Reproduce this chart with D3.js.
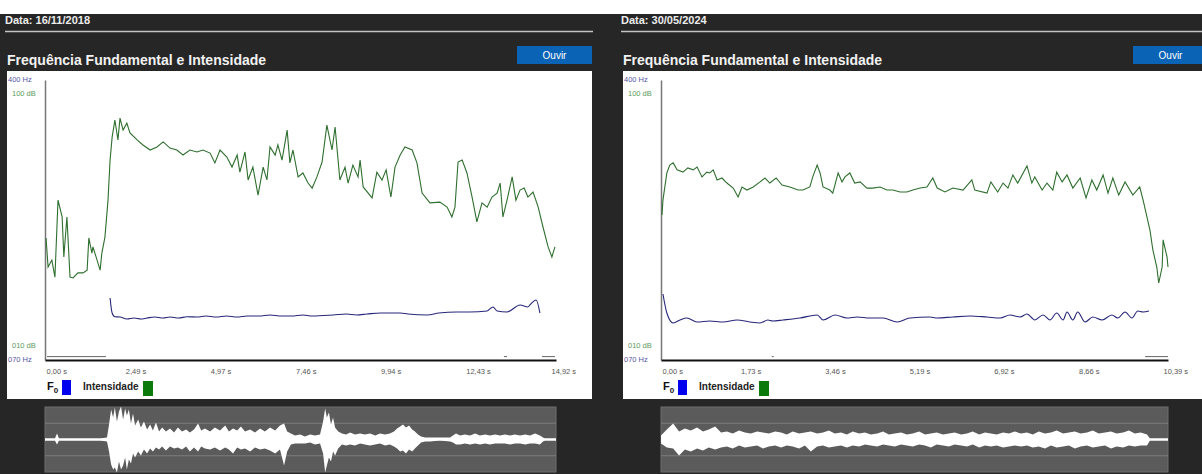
<!DOCTYPE html>
<html lang="pt">
<head>
<meta charset="UTF-8">
<title>Frequência Fundamental e Intensidade</title>
<style>
  body { margin: 0; background: #fff; }
  svg { display: block; font-family: "Liberation Sans", Arial, sans-serif; }
</style>
</head>
<body>
<svg id="chart" width="1202" height="474"></svg>
<script src="https://d3js.org/d3.v7.min.js"></script>
<script>
// ---- left recording (16/11/2018) ----
const leftDate = "16/11/2018";
const leftDuration = 14.92;
const leftTicks = [0, 2.49, 4.97, 7.46, 9.94, 12.43, 14.92];

// intensity (s, dB)
const leftIntT = [
  0.03, 0.09, 0.20, 0.29, 0.38, 0.50, 0.55, 0.64, 0.73, 0.82,
  0.96, 1.11, 1.23, 1.28, 1.37, 1.40, 1.52, 1.61, 1.66, 1.75,
  1.84, 1.90, 1.96, 2.04, 2.13, 2.19, 2.28, 2.39, 2.48, 2.69,
  2.86, 3.07, 3.27, 3.45, 3.65, 3.85, 4.03, 4.23, 4.44, 4.61,
  4.82, 4.96, 5.11, 5.31, 5.46, 5.61, 5.69, 5.84, 5.93, 6.07,
  6.22, 6.37, 6.48, 6.57, 6.72, 6.80, 6.92, 7.07, 7.15, 7.24,
  7.39, 7.53, 7.68, 7.80, 7.94, 8.09, 8.23, 8.38, 8.47, 8.61,
  8.76, 8.85, 8.99, 9.14, 9.20, 9.29, 9.55, 9.69, 9.84, 9.96,
  10.10, 10.22, 10.37, 10.51, 10.72, 10.86, 11.01, 11.24, 11.53, 11.74,
  11.88, 11.97, 12.06, 12.18, 12.32, 12.47, 12.61, 12.76, 12.91, 13.05,
  13.20, 13.29, 13.37, 13.49, 13.64, 13.75, 13.87, 13.99, 14.10, 14.25,
  14.40, 14.54, 14.69, 14.80, 14.89
];
const leftIntDb = [
  48.6, 38.2, 40.7, 34.6, 62.1, 56.1, 41.8, 56.1, 34.6, 34.3,
  36.1, 36.1, 37.1, 48.6, 43.2, 45.4, 40.7, 37.1, 43.2, 48.9,
  62.1, 76.4, 84.6, 90.7, 83.6, 91.4, 87.1, 89.6, 86.1, 83.6,
  81.8, 80.0, 81.1, 82.9, 80.7, 80.0, 78.2, 80.0, 79.3, 80.0,
  78.9, 75.4, 80.0, 77.5, 73.9, 78.2, 72.1, 79.3, 69.3, 73.9,
  63.9, 73.9, 69.3, 81.1, 78.2, 81.8, 76.4, 87.1, 75.4, 80.0,
  70.4, 71.8, 68.2, 66.4, 70.4, 75.7, 88.9, 80.0, 88.2, 69.3,
  73.9, 68.2, 74.6, 70.4, 76.4, 66.8, 62.9, 72.1, 69.3, 72.9,
  63.2, 73.9, 78.2, 81.1, 80.0, 75.4, 64.6, 61.1, 61.4, 59.6,
  56.1, 59.6, 75.7, 76.4, 71.8, 63.2, 54.3, 61.1, 59.6, 63.2,
  64.6, 68.2, 56.1, 62.1, 70.4, 62.1, 65.7, 66.4, 63.2, 65.0,
  59.6, 52.5, 45.4, 41.8, 45.4
];

// fundamental frequency (s, Hz)
const leftF0T = [
  1.90, 1.96, 2.04, 2.19, 2.39, 2.60, 2.80, 2.98, 3.20, 3.45,
  3.65, 3.90, 4.15, 4.44, 4.70, 5.00, 5.30, 5.61, 5.90, 6.25,
  6.57, 6.90, 7.20, 7.53, 7.80, 8.41, 8.80, 9.10, 9.40, 9.80,
  10.37, 10.60, 11.16, 11.50, 12.03, 12.40, 12.91, 13.08, 13.20, 13.49,
  13.87, 14.10, 14.16, 14.34, 14.45
];
const leftF0Hz = [
  143.1, 125.4, 121.0, 120.7, 118.3, 119.5, 118.3, 119.5, 120.7, 119.5,
  120.7, 119.5, 121.0, 120.7, 121.9, 120.7, 121.9, 120.7, 121.9, 121.9,
  123.1, 121.9, 121.9, 123.1, 121.9, 123.1, 124.2, 123.1, 124.2, 125.4,
  125.4, 124.2, 123.1, 125.4, 126.6, 126.6, 127.8, 132.5, 127.8, 126.6,
  134.9, 132.5, 134.9, 140.8, 125.4
];
// unvoiced stretches drawn along the floor (s)
const leftUnvoiced = [[0.06, 1.78], [13.40, 13.49], [14.51, 14.89]];

// waveform envelope (s, amplitude up / down)
const leftWaveT = [
  0, 0.29, 0.35, 0.41, 1.61, 1.81, 1.87, 1.93, 1.99, 2.04,
  2.10, 2.16, 2.22, 2.28, 2.34, 2.39, 2.45, 2.51, 2.57, 2.63,
  2.72, 2.80, 2.89, 2.98, 3.07, 3.15, 3.24, 3.33, 3.42, 3.53,
  3.65, 3.77, 3.88, 4.00, 4.12, 4.23, 4.35, 4.47, 4.56, 4.67,
  4.82, 4.96, 5.11, 5.26, 5.37, 5.49, 5.61, 5.72, 5.84, 5.99,
  6.13, 6.28, 6.42, 6.57, 6.72, 6.86, 6.98, 7.07, 7.18, 7.30,
  7.45, 7.59, 7.74, 7.88, 8.03, 8.12, 8.18, 8.23, 8.29, 8.35,
  8.41, 8.47, 8.56, 8.67, 8.79, 8.91, 9.05, 9.20, 9.34, 9.49,
  9.64, 9.78, 9.93, 10.07, 10.19, 10.28, 10.37, 10.45, 10.54, 10.63,
  10.72, 10.80, 10.89, 10.98, 11.10, 11.24, 11.53, 11.83, 11.91, 12.00,
  12.12, 12.26, 12.41, 12.56, 12.70, 12.85, 12.99, 13.14, 13.29, 13.43,
  13.58, 13.72, 13.87, 14.02, 14.16, 14.31, 14.45, 14.54, 14.60, 14.92
];
const leftWaveUp = [
  1, 1, 6, 1, 1, 2, 15, 30, 22, 32,
  18, 28, 33, 20, 31, 24, 30, 16, 26, 14,
  20, 12, 18, 10, 15, 9, 17, 8, 12, 8,
  11, 7, 12, 8, 10, 7, 10, 16, 9, 11,
  8, 12, 9, 14, 8, 11, 9, 13, 8, 10,
  7, 11, 8, 12, 9, 14, 16, 8, 6, 4,
  5, 3, 5, 4, 5, 18, 31, 22, 27, 15,
  22, 12, 8, 6, 5, 7, 5, 6, 5, 6,
  4, 6, 5, 6, 8, 11, 13, 15, 12, 14,
  10, 8, 5, 3, 2, 2, 2, 2, 4, 6,
  4, 5, 4, 6, 4, 5, 4, 5, 4, 5,
  4, 5, 4, 5, 4, 6, 4, 2, 1, 1
];
const leftWaveDown = [
  1, 1, 5, 1, 1, 2, 12, 25, 30, 28,
  33, 22, 30, 26, 18, 30, 20, 24, 14, 18,
  12, 16, 10, 14, 9, 12, 8, 10, 7, 11,
  7, 9, 8, 10, 7, 12, 8, 12, 7, 9,
  10, 8, 11, 8, 10, 14, 8, 10, 9, 12,
  8, 10, 9, 11, 14, 10, 26, 12, 5, 4,
  4, 4, 3, 5, 4, 14, 33, 26, 18, 22,
  12, 16, 9, 5, 6, 5, 6, 4, 5, 6,
  5, 4, 6, 5, 7, 9, 12, 11, 14, 10,
  12, 9, 6, 3, 2, 2, 1, 2, 3, 5,
  5, 4, 5, 4, 5, 4, 5, 4, 4, 4,
  5, 4, 4, 5, 4, 4, 5, 2, 1, 1
];

// ---- right recording (30/05/2024) ----
const rightDate = "30/05/2024";
const rightDuration = 10.39;
const rightTicks = [0, 1.73, 3.46, 5.19, 6.92, 8.66, 10.39];

const rightIntT = [
  0.02, 0.04, 0.12, 0.18, 0.25, 0.33, 0.45, 0.55, 0.66, 0.74,
  0.84, 0.94, 1.00, 1.07, 1.15, 1.25, 1.35, 1.48, 1.58, 1.66,
  1.76, 1.89, 2.03, 2.13, 2.23, 2.36, 2.48, 2.64, 2.81, 2.91,
  3.05, 3.11, 3.20, 3.26, 3.32, 3.46, 3.52, 3.63, 3.71, 3.77,
  3.87, 3.97, 4.08, 4.22, 4.34, 4.49, 4.63, 4.75, 4.90, 5.04,
  5.16, 5.31, 5.45, 5.57, 5.66, 5.82, 5.98, 6.19, 6.37, 6.43,
  6.68, 6.76, 6.90, 7.01, 7.11, 7.21, 7.31, 7.50, 7.60, 7.66,
  7.81, 7.91, 8.03, 8.11, 8.22, 8.32, 8.44, 8.59, 8.71, 8.83,
  8.93, 9.06, 9.16, 9.26, 9.38, 9.51, 9.67, 9.81, 9.88, 10.02,
  10.08, 10.16, 10.20, 10.27, 10.29, 10.37, 10.39
];
const rightIntDb = [
  56.8, 62.1, 71.8, 74.6, 75.4, 72.9, 72.1, 73.6, 72.9, 73.9,
  70.4, 72.1, 71.8, 72.9, 69.3, 70.0, 68.2, 66.4, 63.2, 66.8,
  65.7, 66.8, 68.6, 70.0, 68.2, 70.0, 67.5, 66.8, 65.7, 65.7,
  66.8, 70.4, 74.6, 71.8, 66.8, 65.7, 64.6, 71.8, 68.6, 70.4,
  71.8, 68.2, 68.6, 66.4, 66.4, 66.8, 65.7, 65.7, 65.0, 65.0,
  65.7, 66.4, 66.8, 70.0, 66.4, 65.0, 66.4, 65.7, 69.3, 65.7,
  64.6, 68.6, 65.0, 68.2, 66.4, 71.1, 68.2, 74.3, 68.2, 70.4,
  65.7, 68.2, 65.7, 72.1, 68.6, 71.1, 66.4, 70.0, 62.9, 69.3,
  65.7, 71.1, 64.6, 70.0, 63.9, 68.6, 63.9, 66.8, 62.1, 51.4,
  44.3, 38.2, 32.5, 38.2, 47.9, 41.8, 38.2
];

const rightF0T = [
  0.04, 0.12, 0.25, 0.39, 0.53, 0.74, 1.00, 1.27, 1.56, 1.82,
  2.03, 2.19, 2.29, 2.50, 2.85, 3.20, 3.32, 3.57, 3.81, 4.02,
  4.28, 4.55, 4.84, 5.10, 5.51, 5.66, 5.98, 6.33, 6.68, 6.95,
  7.15, 7.36, 7.50, 7.66, 7.83, 7.97, 8.11, 8.24, 8.32, 8.44,
  8.54, 8.69, 8.85, 9.04, 9.24, 9.36, 9.51, 9.65, 9.77, 9.88,
  10.00
];
const rightF0Hz = [
  147.8, 125.4, 113.6, 117.2, 119.5, 114.8, 116.0, 114.8, 117.2, 114.8,
  113.6, 117.2, 116.0, 117.2, 119.5, 123.1, 117.2, 123.1, 119.5, 120.7,
  119.5, 119.5, 114.8, 119.5, 120.7, 119.5, 120.7, 121.9, 120.7, 119.5,
  123.1, 120.7, 124.2, 117.2, 123.1, 117.2, 125.4, 117.2, 126.6, 117.2,
  126.6, 114.8, 120.7, 117.2, 123.1, 119.5, 126.6, 119.5, 127.8, 126.6,
  127.8
];
const rightUnvoiced = [[2.27, 2.31], [9.92, 10.39]];

const rightWaveT = [
  0, 0.12, 0.25, 0.37, 0.49, 0.61, 0.74, 0.86, 0.98, 1.11,
  1.23, 1.35, 1.47, 1.60, 1.72, 1.84, 1.97, 2.09, 2.21, 2.34,
  2.46, 2.58, 2.70, 2.83, 2.95, 3.07, 3.20, 3.32, 3.44, 3.56,
  3.69, 3.81, 3.93, 4.06, 4.18, 4.30, 4.43, 4.55, 4.67, 4.79,
  4.92, 5.04, 5.16, 5.29, 5.41, 5.53, 5.65, 5.78, 5.90, 6.02,
  6.15, 6.27, 6.39, 6.52, 6.64, 6.76, 6.88, 7.01, 7.13, 7.25,
  7.38, 7.50, 7.62, 7.74, 7.87, 7.99, 8.11, 8.24, 8.36, 8.48,
  8.60, 8.73, 8.85, 8.97, 9.10, 9.22, 9.34, 9.47, 9.59, 9.71,
  9.83, 9.96, 10.02, 10.39
];
const rightWaveUp = [
  4, 10, 16, 8, 11, 9, 12, 8, 10, 13,
  7, 8, 6, 9, 7, 6, 8, 7, 6, 8,
  7, 5, 8, 6, 7, 8, 6, 7, 9, 6,
  7, 5, 8, 6, 7, 5, 6, 8, 5, 6,
  7, 5, 6, 8, 5, 6, 7, 5, 6, 7,
  5, 6, 8, 5, 7, 6, 5, 7, 6, 8,
  6, 7, 5, 8, 6, 7, 9, 6, 7, 8,
  6, 7, 9, 6, 7, 8, 6, 7, 9, 6,
  7, 5, 1, 1
];
const rightWaveDown = [
  4, 8, 9, 16, 10, 12, 9, 11, 8, 10,
  8, 7, 9, 6, 8, 7, 6, 9, 7, 6,
  8, 6, 7, 9, 6, 12, 7, 6, 8, 7,
  6, 8, 6, 7, 5, 6, 7, 5, 6, 7,
  5, 6, 7, 5, 6, 8, 5, 6, 7, 5,
  6, 7, 5, 8, 6, 7, 6, 8, 7, 6,
  7, 6, 8, 7, 9, 6, 8, 7, 6, 9,
  7, 6, 8, 7, 6, 9, 7, 8, 6, 7,
  6, 6, 1, 1
];

const svg = d3.select("#chart");

// dark page background below the white strip
svg.append("rect")
    .attr("x", 0).attr("y", 14)
    .attr("width", 1202).attr("height", 460)
    .attr("fill", "#262626");

function fmtSec(d) {
    return d.toFixed(2).replace(".", ",") + " s";
}

function drawPanel(p) {
    const ox = p.left;
    const g = svg.append("g");

    // header
    g.append("text")
        .attr("x", ox + 5).attr("y", 24)
        .attr("fill", "#ececec")
        .attr("font-size", 11).attr("font-weight", "bold")
        .text("Data: " + p.date);
    g.append("line")
        .attr("x1", ox + 5).attr("x2", ox + 593)
        .attr("y1", 31.5).attr("y2", 31.5)
        .attr("stroke", "#c4c4c4").attr("stroke-width", 1.5);
    g.append("text")
        .attr("x", ox + 7).attr("y", 65)
        .attr("fill", "#f2f2f2")
        .attr("font-size", 14).attr("font-weight", "bold")
        .text("Frequência Fundamental e Intensidade");

    // button
    g.append("rect")
        .attr("x", ox + 517).attr("y", 46)
        .attr("width", 75).attr("height", 18)
        .attr("fill", "#0b63b6");
    g.append("text")
        .attr("x", ox + 554.5).attr("y", 59)
        .attr("text-anchor", "middle")
        .attr("fill", "#fff").attr("font-size", 10)
        .text("Ouvir");

    // chart background
    g.append("rect")
        .attr("x", ox + 7).attr("y", 71)
        .attr("width", 585).attr("height", 328)
        .attr("fill", "#fff");

    const x = d3.scaleLinear().domain([0, p.duration]).range([p.x0, p.x1]);
    const yHz = d3.scaleLinear().domain([70, 400]).range([360, 80]);
    const yDb = d3.scaleLinear().domain([10, 100]).range([346, 94]);

    // y axis (plain line)
    const ya = g.append("g")
        .attr("transform", `translate(${p.x0},0)`)
        .call(d3.axisLeft(yHz).tickValues([]).tickSizeOuter(0));
    ya.select(".domain").attr("stroke", "#777").attr("stroke-width", 1.5);

    // axis end labels
    const small = [
        { t: "400 Hz", y: yHz(400), dx: 8, c: "#5a55a8" },
        { t: "100 dB", y: yDb(100), dx: 12, c: "#5c9a5c" },
        { t: "010 dB", y: yDb(10), dx: 12, c: "#5c9a5c" },
        { t: "070 Hz", y: yHz(70), dx: 8, c: "#5a55a8" }
    ];
    g.selectAll(".ylab").data(small).enter().append("text")
        .attr("x", d => ox + d.dx).attr("y", d => d.y - 1)
        .attr("dy", "0.35em")
        .attr("fill", d => d.c).attr("font-size", 7.5)
        .text(d => d.t);

    // x axis
    const xa = g.append("g")
        .attr("transform", "translate(0,360)")
        .call(d3.axisBottom(x).tickValues(p.ticks).tickSize(0).tickSizeOuter(0).tickFormat(fmtSec));
    xa.select(".domain").attr("stroke", "#111").attr("stroke-width", 2);
    xa.selectAll("text")
        .attr("font-family", "Liberation Sans, Arial, sans-serif")
        .attr("font-size", 7.5).attr("fill", "#555")
        .attr("text-anchor", "start")
        .attr("y", 9)
        .attr("dx", (d, i) => i === 0 ? 1 : -5);

    // unvoiced floor marks
    g.selectAll(".uv").data(p.unvoiced).enter().append("line")
        .attr("x1", d => x(d[0])).attr("x2", d => x(d[1]))
        .attr("y1", yHz(74)).attr("y2", yHz(74))
        .attr("stroke", "#666").attr("stroke-width", 1);

    // series
    const lineDb = d3.line().x(d => x(d[0])).y(d => yDb(d[1]));
    const lineHz = d3.line().x(d => x(d[0])).y(d => yHz(d[1])).curve(d3.curveMonotoneX);
    g.append("path")
        .datum(d3.zip(p.intT, p.intV))
        .attr("d", lineDb)
        .attr("fill", "none").attr("stroke", "#2f6f2f").attr("stroke-width", 1.1);
    g.append("path")
        .datum(d3.zip(p.f0T, p.f0V))
        .attr("d", lineHz)
        .attr("fill", "none").attr("stroke", "#26267a").attr("stroke-width", 1.1);

    // legend
    const lg = g.append("g");
    const f = lg.append("text")
        .attr("x", ox + 47).attr("y", 390)
        .attr("fill", "#111").attr("font-size", 11).attr("font-weight", "bold");
    f.append("tspan").text("F");
    f.append("tspan").attr("dy", 3).attr("font-size", 8).text("0");
    lg.append("rect")
        .attr("x", ox + 62).attr("y", 380)
        .attr("width", 9).attr("height", 15)
        .attr("fill", "#0000ee");
    lg.append("text")
        .attr("x", ox + 83).attr("y", 390)
        .attr("fill", "#222").attr("font-size", 10).attr("font-weight", "bold")
        .text("Intensidade");
    lg.append("rect")
        .attr("x", ox + 143).attr("y", 381)
        .attr("width", 10).attr("height", 15)
        .attr("fill", "#0a7a0a");

    // waveform
    const yW = d3.scaleLinear().domain([-32.5, 32.5]).range([472, 407]);
    g.append("rect")
        .attr("x", p.x0).attr("y", yW(32.5))
        .attr("width", p.x1 - p.x0).attr("height", yW(-32.5) - yW(32.5))
        .attr("fill", "#5b5b5b").attr("stroke", "#6e6e6e");
    g.selectAll(".wg").data([16.25, -16.25]).enter().append("line")
        .attr("x1", p.x0).attr("x2", p.x1)
        .attr("y1", d => yW(d)).attr("y2", d => yW(d))
        .attr("stroke", "#7c7c7c").attr("stroke-width", 1);
    const waveData = p.waveT.map((t, i) => [t, p.waveUp[i], p.waveDown[i]]);
    g.append("path")
        .datum(waveData)
        .attr("d", d3.area().x(d => x(d[0])).y0(d => yW(-d[2])).y1(d => yW(d[1])))
        .attr("fill", "#fff");
    g.append("line")
        .attr("x1", p.x0).attr("x2", p.x1)
        .attr("y1", yW(0)).attr("y2", yW(0))
        .attr("stroke", "#fff").attr("stroke-width", 2);
}

drawPanel({
    left: 0, x0: 45, x1: 556,
    date: leftDate, duration: leftDuration, ticks: leftTicks,
    intT: leftIntT, intV: leftIntDb, f0T: leftF0T, f0V: leftF0Hz,
    unvoiced: leftUnvoiced,
    waveT: leftWaveT, waveUp: leftWaveUp, waveDown: leftWaveDown
});
drawPanel({
    left: 616, x0: 661, x1: 1168,
    date: rightDate, duration: rightDuration, ticks: rightTicks,
    intT: rightIntT, intV: rightIntDb, f0T: rightF0T, f0V: rightF0Hz,
    unvoiced: rightUnvoiced,
    waveT: rightWaveT, waveUp: rightWaveUp, waveDown: rightWaveDown
});
</script>
</body>
</html>
